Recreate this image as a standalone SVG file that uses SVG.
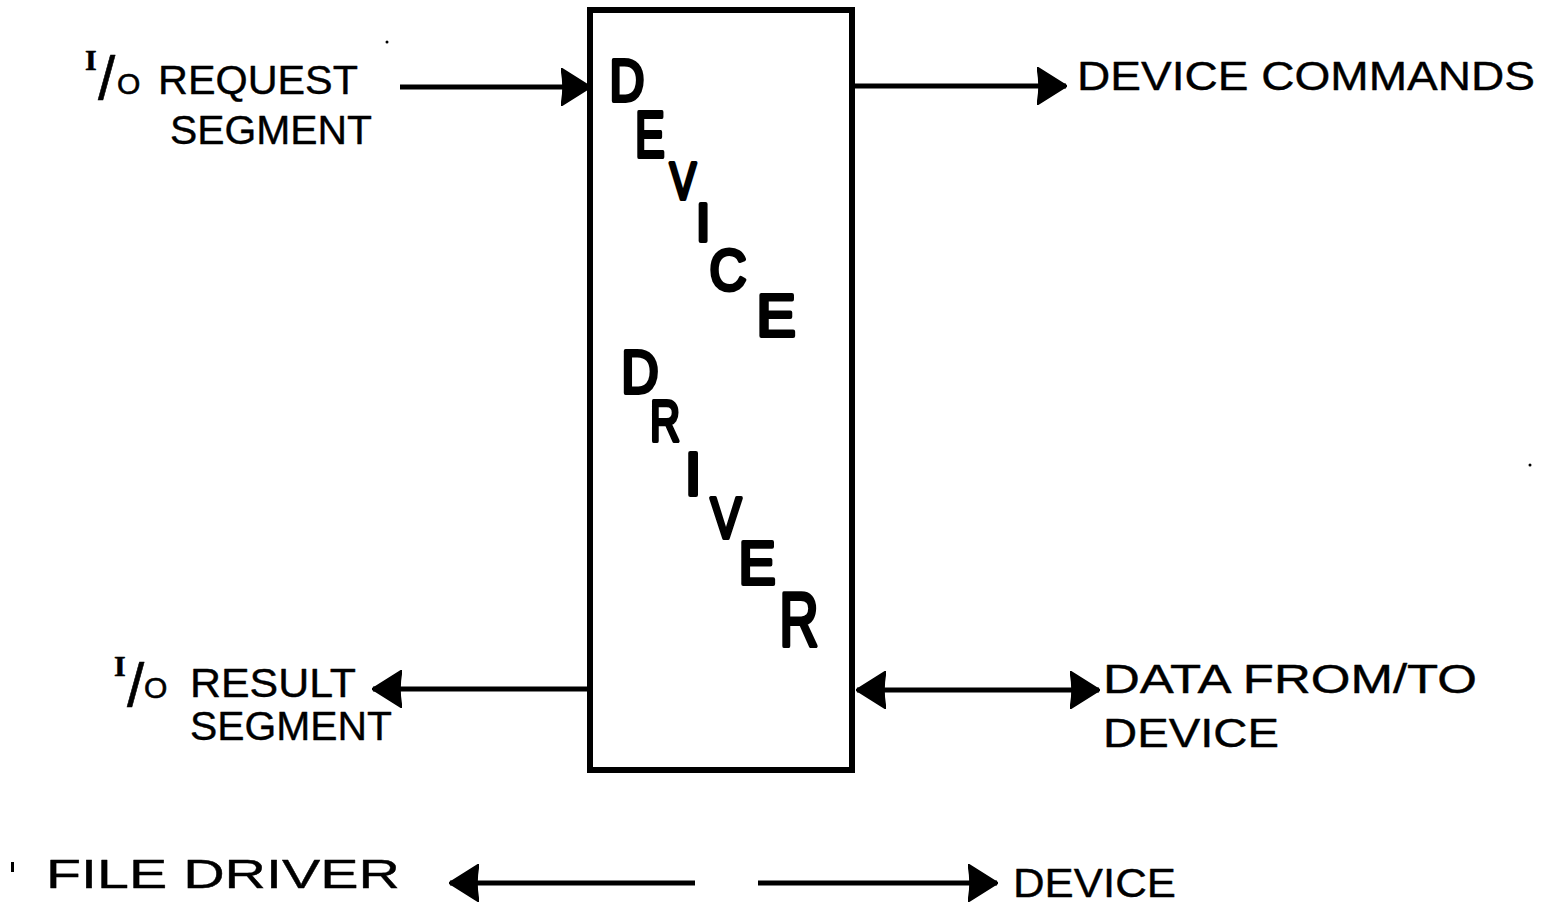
<svg xmlns="http://www.w3.org/2000/svg" width="1560" height="903" viewBox="0 0 1560 903">
  <style>
    .lbl { font-family: "Liberation Sans", "DejaVu Sans", sans-serif; font-size: 41px; fill: #000; stroke: #000; stroke-width: 0.4px; stroke-linejoin: round; }
    .frac { font-family: "Liberation Sans", "DejaVu Sans", sans-serif; fill: #000; stroke: #000; stroke-width: 0.6px; stroke-linejoin: round; }
    .serif { font-family: "Liberation Serif", "DejaVu Serif", serif; font-weight: bold; }
    .big { font-family: "Liberation Sans", "DejaVu Sans", sans-serif; fill: #000; stroke: #000; stroke-width: 4px; stroke-linejoin: round; stroke-linecap: round; text-anchor: middle; }
    .wire { fill: none; stroke: #000; stroke-width: 5; }
  </style>
  <defs>
    <marker id="head" viewBox="0 0 30 38" refX="29" refY="19" markerWidth="30" markerHeight="38" markerUnits="userSpaceOnUse" orient="auto-start-reverse">
      <path d="M0,0 Q4,19 0,38 L30,19 Z" fill="#000" stroke="#000" stroke-width="1.5" stroke-linejoin="round"/>
    </marker>
  </defs>
  <rect width="1560" height="903" fill="#fff"/>

  <!-- central block: device driver, lettered on a diagonal -->
  <g id="device-driver">
    <rect x="590" y="10" width="262" height="760" fill="none" stroke="#000" stroke-width="6"/>
    <text class="big" font-size="59" transform="translate(627,101) scale(0.82,1)">D</text>
    <text class="big" font-size="64" transform="translate(650,157) scale(0.7,1)">E</text>
    <text class="big" font-size="52" transform="translate(683,199) scale(0.76,1)">V</text>
    <text class="big" font-size="53" transform="translate(703,241)">I</text>
    <text class="big" font-size="57" transform="translate(728,290) scale(0.9,1)">C</text>
    <text class="big" font-size="60" transform="translate(776,336) scale(0.98,1)">E</text>
    <text class="big" font-size="61" transform="translate(640,393) scale(0.85,1)">D</text>
    <text class="big" font-size="58" transform="translate(665,441) scale(0.72,1)">R</text>
    <text class="big" font-size="62" transform="translate(693,495)">I</text>
    <text class="big" font-size="58" transform="translate(726,538) scale(0.8,1)">V</text>
    <text class="big" font-size="62" transform="translate(757,584) scale(0.9,1)">E</text>
    <text class="big" font-size="76" transform="translate(799,646) scale(0.72,1)">R</text>
  </g>

  <g id="request">
    <text class="frac"><tspan class="serif" x="85" y="70" font-size="30">I</tspan><tspan x="98" y="99" font-size="62">/</tspan><tspan x="117" y="94" font-size="30">O</tspan></text>
    <text class="lbl" x="158" y="94" textLength="200" lengthAdjust="spacingAndGlyphs">REQUEST</text>
    <text class="lbl" x="170" y="144" textLength="202" lengthAdjust="spacingAndGlyphs">SEGMENT</text>
  </g>

  <g id="commands">
    <text class="lbl" x="1077" y="90" font-size="47" textLength="458" lengthAdjust="spacingAndGlyphs">DEVICE COMMANDS</text>
  </g>

  <g id="result">
    <text class="frac"><tspan class="serif" x="114" y="676" font-size="30">I</tspan><tspan x="127" y="706" font-size="62">/</tspan><tspan x="144" y="698" font-size="30">O</tspan></text>
    <text class="lbl" x="190" y="697" textLength="166" lengthAdjust="spacingAndGlyphs">RESULT</text>
    <text class="lbl" x="190" y="740" textLength="202" lengthAdjust="spacingAndGlyphs">SEGMENT</text>
  </g>

  <g id="data">
    <text class="lbl" x="1103" y="693" textLength="374" lengthAdjust="spacingAndGlyphs">DATA   FROM/TO</text>
    <text class="lbl" x="1103" y="747" textLength="176" lengthAdjust="spacingAndGlyphs">DEVICE</text>
  </g>

  <g id="legend-file-driver">
    <rect x="11" y="862" width="3" height="10" fill="#000"/>
    <text class="lbl" x="46" y="888" textLength="354" lengthAdjust="spacingAndGlyphs">FILE  DRIVER</text>
  </g>

  <g id="legend-device">
    <text class="lbl" x="1013" y="897" textLength="163" lengthAdjust="spacingAndGlyphs">DEVICE</text>
  </g>

  <!-- connectors -->
  <g id="connectors">
    <path class="wire" d="M400,87 H590" marker-end="url(#head)"/>
    <path class="wire" d="M855,86 H1066" marker-end="url(#head)"/>
    <path class="wire" d="M588,689 H373" marker-end="url(#head)"/>
    <path class="wire" d="M857,690 H1099" marker-start="url(#head)" marker-end="url(#head)"/>
    <path class="wire" d="M695,883 H450" marker-end="url(#head)"/>
    <path class="wire" d="M758,883 H997" marker-end="url(#head)"/>
  </g>

  <!-- specks -->
  <circle cx="387" cy="42" r="1.5" fill="#000"/>
  <circle cx="1530" cy="465" r="1.5" fill="#000"/>
</svg>
